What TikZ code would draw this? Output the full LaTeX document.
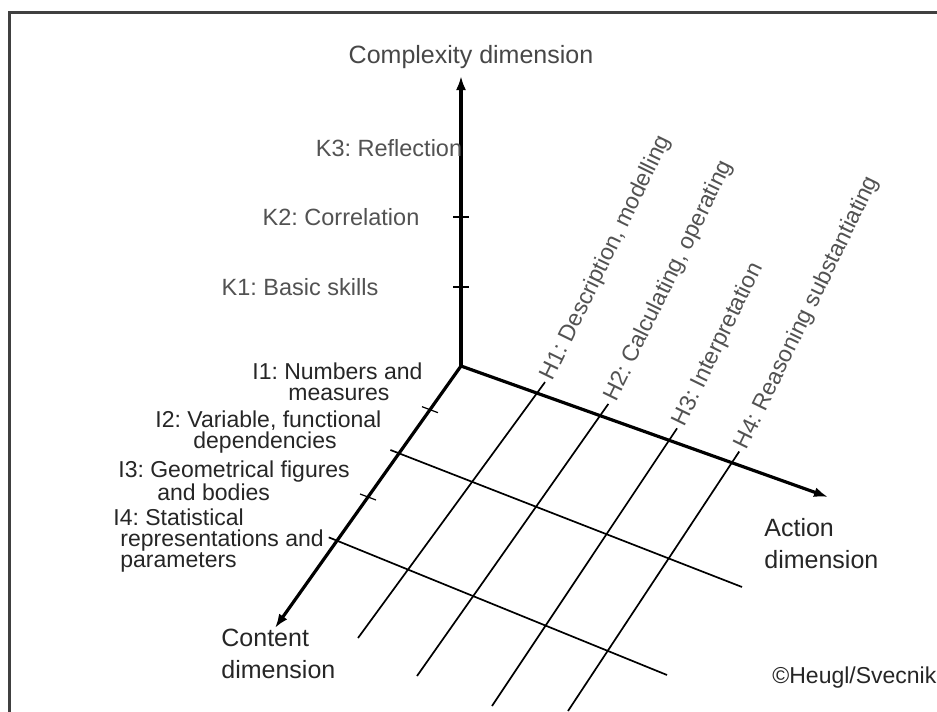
\documentclass[tikz,border=0pt]{standalone}
\usepackage{fontspec}
\setmainfont{Liberation Sans}
\usetikzlibrary{arrows.meta,calc}
\frenchspacing
\begin{document}
\begin{tikzpicture}[x=0.5pt,y=-0.5pt,
  axis/.style={line width=1.6pt,line cap=round,-{Latex[length=7pt,width=5pt]}},
  gridline/.style={line width=0.85pt},
  tickmark/.style={line width=0.6pt},
  klabel/.style={text=black!68,font=\fontsize{11.75}{13}\selectfont,inner sep=0pt},
  ilabel/.style={text=black!85,font=\fontsize{11.5}{10.5}\selectfont,align=left,anchor=west,inner sep=0pt},
  hlabel/.style={text=black!68,font=\fontsize{11.5}{13}\selectfont,anchor=west,rotate=64,inner sep=0pt},
  dimlabel/.style={text=black!85,font=\fontsize{12.5}{16}\selectfont,align=left,anchor=west,inner sep=0pt},
]
\useasboundingbox (0,0) rectangle (937,712);
\fill[white] (0,0) rectangle (937,712);

% frame
\draw[line width=1.5pt,black!75,line join=miter] (9,712) -- (9,12) -- (937,12);

% axes end points
\coordinate (O) at (461,366);
\coordinate (Ktip) at (461,76);
\coordinate (Atip) at (828,497);
\coordinate (Ctip) at (275,628);

% points on the content axis
\coordinate (c1) at ($(O)!0.1667!(Ctip)$);
\coordinate (c2) at ($(O)!0.3333!(Ctip)$);
\coordinate (c3) at ($(O)!0.5!(Ctip)$);
\coordinate (c4) at ($(O)!0.6667!(Ctip)$);
\coordinate (c2e) at (742,587);
\coordinate (c4e) at (667,675);

% points on the action axis
\coordinate (h1) at ($(O)!0.207!(Atip)$);
\coordinate (h2) at ($(O)!0.379!(Atip)$);
\coordinate (h3) at ($(O)!0.567!(Atip)$);
\coordinate (h4) at ($(O)!0.738!(Atip)$);
\coordinate (h1e) at (358,638);
\coordinate (h2e) at (417,676);
\coordinate (h3e) at (492,706);
\coordinate (h4e) at (568,711);

% points on the complexity axis
\coordinate (k1) at (461,287);
\coordinate (k2) at (461,217);

% grid in the content/action plane
\draw[gridline] ($(c2)!-0.025!(c2e)$) -- (c2e);
\draw[gridline] ($(c4)!-0.025!(c4e)$) -- (c4e);
\draw[gridline] ($(h1)!-0.045!(h1e)$) -- (h1e);
\draw[gridline] ($(h2)!-0.045!(h2e)$) -- (h2e);
\draw[gridline] ($(h3)!-0.045!(h3e)$) -- (h3e);
\draw[gridline] ($(h4)!-0.045!(h4e)$) -- (h4e);

% tick marks
\draw[tickmark] ($(c1)+(-8,-3)$) -- ($(c1)+(8,3)$);
\draw[tickmark] ($(c3)+(-8,-3)$) -- ($(c3)+(8,3)$);
\draw[tickmark] ($(k1)+(-8,0)$) -- ($(k1)+(8,0)$);
\draw[tickmark] ($(k2)+(-8,0)$) -- ($(k2)+(8,0)$);

% axes
\draw[axis] (O) -- (Ktip);
\draw[axis] (O) -- (Atip);
\draw[axis] (O) -- (Ctip);

% axis titles
\node[text=black!72,font=\fontsize{12.5}{15}\selectfont,inner sep=0pt] (ktitle) at (471,57) {Complexity dimension};
\node[dimlabel] (atitle) at (764,544) {Action\\dimension};
\node[dimlabel] (ctitle) at (221,654) {Content\\dimension};

% complexity levels
\node[klabel] (K3) at (389,148) {K3: Reflection};
\node[klabel] (K2) at (341,217) {K2: Correlation};
\node[klabel] (K1) at (300,287) {K1: Basic skills};

% content areas
\node[ilabel] (I1) at (252,382) {I1: Numbers and\\\hspace*{18pt}measures};
\node[ilabel] (I2) at (155,432) {I2: Variable, functional\\\hspace*{19pt}dependencies};
\node[ilabel] (I3) at (118,481) {I3: Geometrical figures\\\hspace*{19.5pt}and bodies};
\node[ilabel] (I4) at (113,541) {I4: Statistical\\\hspace*{3.5pt}representations and\\\hspace*{3.5pt}parameters};

% action areas
\node[hlabel] (H1) at ($(h1)!-0.058!(h1e)$) {H1: Description, modelling};
\node[hlabel] (H2) at ($(h2)!-0.058!(h2e)$) {H2: Calculating, operating};
\node[hlabel] (H3) at ($(h3)!-0.058!(h3e)$) {H3: Interpretation};
\node[hlabel] (H4) at ($(h4)!-0.058!(h4e)$) {H4: Reasoning substantiating};

% copyright
\node[text=black!85,font=\fontsize{11.5}{13}\selectfont,anchor=west,inner sep=0pt] (copy) at (772,678) {©Heugl/Svecnik};
\end{tikzpicture}
\end{document}
